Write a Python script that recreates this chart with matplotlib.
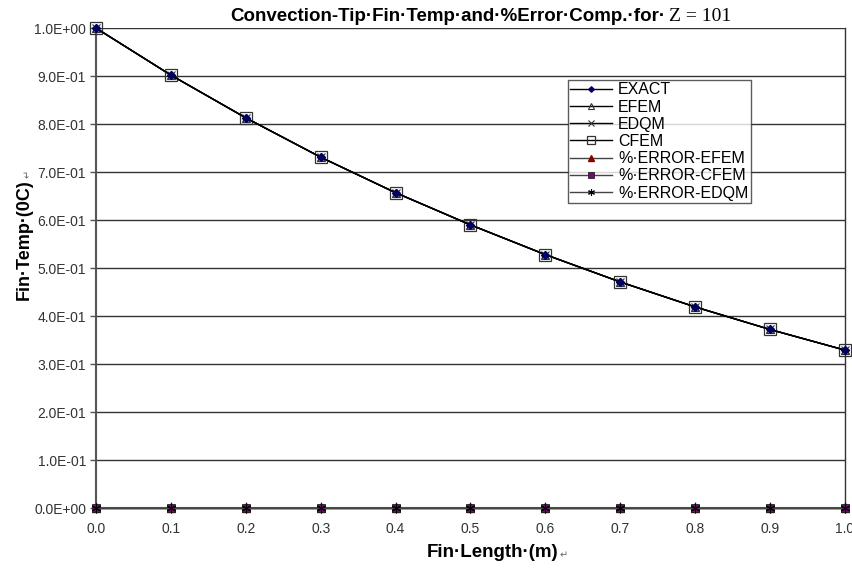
import matplotlib
matplotlib.use('Agg')
import matplotlib.pyplot as plt

# Fin length positions (m)
length = [0.0, 0.1, 0.2, 0.3, 0.4, 0.5, 0.6, 0.7, 0.8, 0.9, 1.0]

# Temperature curves (all methods lie on top of each other)
exact = [1.0, 0.902, 0.813, 0.731, 0.657, 0.590, 0.528, 0.471, 0.419, 0.372, 0.329]
efem = [1.0, 0.902, 0.813, 0.731, 0.657, 0.590, 0.528, 0.471, 0.419, 0.372, 0.329]
edqm = [1.0, 0.902, 0.813, 0.731, 0.657, 0.590, 0.528, 0.471, 0.419, 0.372, 0.329]
cfem = [1.0, 0.902, 0.813, 0.731, 0.657, 0.590, 0.528, 0.471, 0.419, 0.372, 0.329]

# Percent errors (all ~0)
err_efem = [0.0] * 11
err_cfem = [0.0] * 11
err_edqm = [0.0] * 11

yticks = [0.0, 0.1, 0.2, 0.3, 0.4, 0.5, 0.6, 0.7, 0.8, 0.9, 1.0]
ytick_labels = ['0.0E+00', '1.0E-01', '2.0E-01', '3.0E-01', '4.0E-01', '5.0E-01',
                '6.0E-01', '7.0E-01', '8.0E-01', '9.0E-01', '1.0E+00']

plt.rcParams['font.family'] = ['Liberation Sans', 'DejaVu Sans']

fig = plt.figure(figsize=(8.53, 5.68), dpi=100)
ax = fig.add_axes([0.1125, 0.1056, 0.878, 0.845])

lw = 1.0
ax.plot(length, exact, color='black', lw=lw, marker='D', ms=4, mfc='#000060', mec='#000060', label='EXACT', zorder=5, clip_on=False)
ax.plot(length, efem, color='black', lw=lw, marker='^', ms=6, mfc='none', mec='#333333', mew=0.8, label='EFEM', zorder=4, clip_on=False)
ax.plot(length, edqm, color='black', lw=lw, marker='x', ms=6, mec='#333333', mew=0.8, label='EDQM', zorder=4, clip_on=False)
ax.plot(length, cfem, color='black', lw=lw, marker='s', ms=9, mfc='none', mec='#333333', mew=0.9, label='CFEM', zorder=4, clip_on=False)
ax.plot(length, err_efem, color='#444444', lw=lw, marker='^', ms=6, mfc='#8b0000', mec='#8b0000', label='%·ERROR-EFEM', zorder=4, clip_on=False)
ax.plot(length, err_cfem, color='#444444', lw=lw, marker='s', ms=6, mfc='#800080', mec='#222222', mew=0.6, label='%·ERROR-CFEM', zorder=5, clip_on=False)
ax.plot(length, err_edqm, color='#444444', lw=lw, marker=(6, 2, 0), ms=7, mec='black', mew=0.8, label='%·ERROR-EDQM', zorder=6, clip_on=False)

ax.set_xlim(0, 1.0)
ax.set_ylim(0, 1.0)
ax.set_xticks(length)
ax.set_xticklabels([f'{v:.1f}' for v in length])
ax.set_yticks(yticks)
ax.set_yticklabels(ytick_labels)
ax.tick_params(axis='both', labelsize=10, colors='#555555', labelcolor='#333333', length=4, width=1)
ax.tick_params(axis='x', direction='in', pad=10)
ax.tick_params(axis='y', direction='out', pad=3)

for y in yticks[1:]:
    ax.axhline(y, color='#333333', lw=1.0, zorder=1)
ax.spines['top'].set_visible(False)
ax.spines['left'].set_color('#555555')
ax.spines['left'].set_linewidth(1.5)
ax.spines['bottom'].set_color('#555555')
ax.spines['bottom'].set_linewidth(1.5)
ax.spines['right'].set_color('#333333')
ax.spines['right'].set_linewidth(1.0)

# axis titles, with the small Word return mark after them
ylab = fig.text(0.028, 0.578, 'Fin·Temp·(0C)', rotation=90, ha='center', va='center',
                fontsize=13, fontweight='bold')
xlab = fig.text(0.578, 0.028, 'Fin·Length·(m)', ha='center', va='center',
                fontsize=13.5, fontweight='bold')

title = fig.text(0.27, 0.956, 'Convection-Tip·Fin·Temp·and·%Error·Comp.·for·', ha='left', va='bottom',
                 fontsize=13.5, fontweight='bold')

fig.canvas.draw()
r = fig.canvas.get_renderer()
bt = title.get_window_extent(r)
fig.text((bt.x1 + 4) / fig.bbox.width, 0.956, 'Z = 101', ha='left', va='bottom',
         fontsize=14, family='Liberation Serif')
bx = xlab.get_window_extent(r)
fig.text((bx.x1 + 1) / fig.bbox.width, bx.y0 / fig.bbox.height, '\u21b5', ha='left', va='bottom',
         fontsize=7, color='#666666')
by = ylab.get_window_extent(r)
fig.text(by.x1 / fig.bbox.width, (by.y1 + 1) / fig.bbox.height, '\u21b5', ha='right', va='bottom',
         fontsize=7, color='#666666', rotation=90)

leg = ax.legend(loc='upper left', bbox_to_anchor=(0.63, 0.892), fontsize=11.5, frameon=True,
                fancybox=False, edgecolor='#333333', borderpad=0.15, labelspacing=0.14,
                handlelength=2.6, handletextpad=0.4, borderaxespad=0, markerscale=0.7)
leg.get_frame().set_linewidth(1.0)
leg.set_zorder(10)

fig.savefig('out.png', dpi=100)
